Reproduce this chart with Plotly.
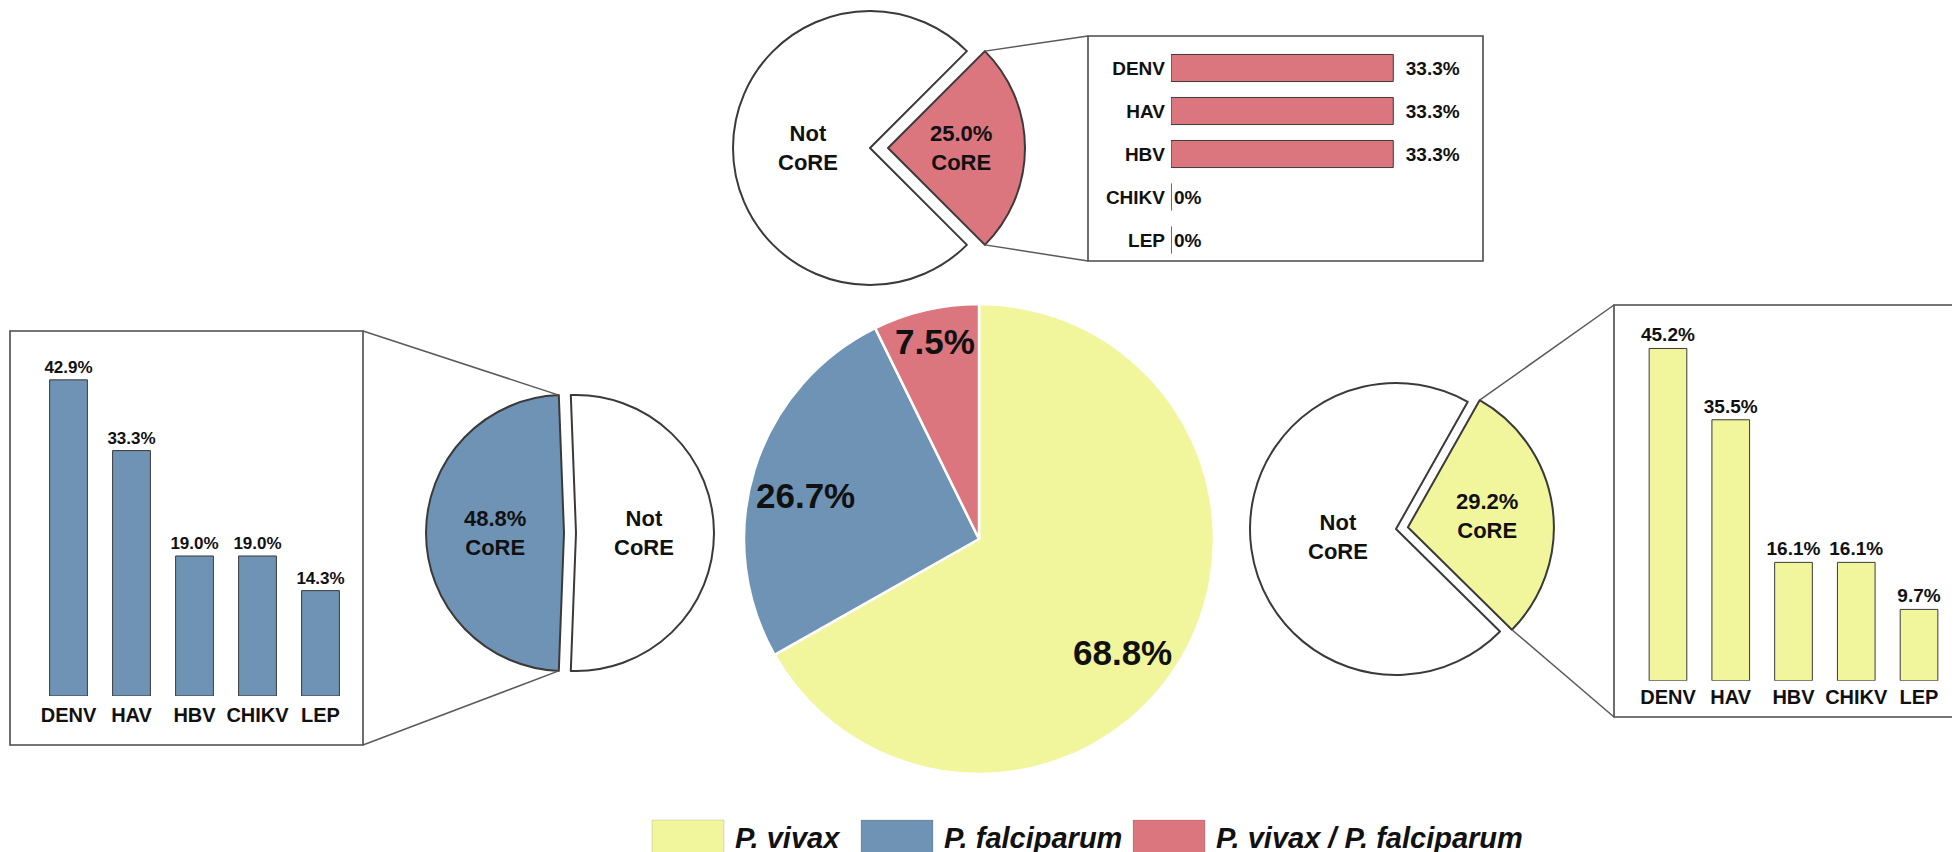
import math
import plotly.graph_objects as go

W, H = 1960, 852

# ---------------- data ----------------
species = ["P. vivax", "P. falciparum", "P. vivax / P. falciparum"]
species_share = [68.8, 26.7, 7.5]
species_colors = ["#F1F69D", "#6E93B5", "#DB757E"]

core_labels = ["CoRE", "Not CoRE"]
vivax_core = [29.2, 70.8]
falciparum_core = [48.8, 51.2]
mixed_core = [25.0, 75.0]

pathogens = ["DENV", "HAV", "HBV", "CHIKV", "LEP"]
vivax_pathogens = [45.2, 35.5, 16.1, 16.1, 9.7]
falciparum_pathogens = [42.9, 33.3, 19.0, 19.0, 14.3]
mixed_pathogens = [33.3, 33.3, 33.3, 0.0, 0.0]

# ---------------- style ----------------
FONT = "Liberation Sans, Arial, sans-serif"
TXT = "#111111"
EDGE = "#3a3a3a"
CLEAR = "rgba(0,0,0,0)"
# label placement inside the central pie (radius fraction, angular nudge in degrees)
CENTER_LABEL_R = [0.78, 0.76, 0.86]
CENTER_LABEL_NUDGE = [8, -3, 0.5]


def fx(x):
    return x / W


def fy(y):
    return 1 - y / H


def dom(cx, cy, r):
    return dict(x=[fx(cx - r), fx(cx + r)], y=[fy(cy + r), fy(cy - r)])


def polar(cx, cy, r, deg):
    a = math.radians(deg)
    return cx + r * math.sin(a), cy - r * math.cos(a)


def pct(v):
    return "0%" if v == 0 else f"{v:.1f}%"


def label(x, y, text, size, **kw):
    d = dict(x=fx(x), y=fy(y), xref="paper", yref="paper", text=text, showarrow=False,
             xanchor="center", yanchor="middle",
             font=dict(family=FONT, size=size, color=TXT, weight="bold"))
    d.update(kw)
    return d


fig = go.Figure()
annotations = []
shapes = []

# ---------------- central pie ----------------
CX, CY, CR = 971, 531, 235
fig.add_trace(go.Pie(
    labels=species, values=species_share, sort=False, direction="clockwise",
    rotation=0, domain=dom(CX, CY, CR), textinfo="none", showlegend=False,
    marker=dict(colors=species_colors, line=dict(color="white", width=2.5)),
))
tot = sum(species_share)
start = 0.0
for v, rk, nudge in zip(species_share, CENTER_LABEL_R, CENTER_LABEL_NUDGE):
    span = 360 * v / tot
    lx, ly = polar(CX, CY, rk * CR, start + span / 2 + nudge)
    annotations.append(label(lx, ly, pct(v), 35))
    start += span


# ---------------- split (exploded) pies ----------------
def split_pie(values, color, cx, cy, r, center_deg, pull_px, core_k, not_k):
    total = sum(values)
    span = 360 * values[0] / total
    rot = center_deg - span / 2
    tx, ty = polar(cx, cy, pull_px, center_deg)
    fig.add_trace(go.Pie(
        labels=core_labels, values=values, sort=False, direction="clockwise", rotation=rot,
        domain=dom(cx, cy, r), textinfo="none", showlegend=False,
        marker=dict(colors=[CLEAR, "white"], line=dict(color=[CLEAR, EDGE], width=[0, 2])),
    ))
    fig.add_trace(go.Pie(
        labels=core_labels, values=values, sort=False, direction="clockwise", rotation=rot,
        domain=dom(tx, ty, r), textinfo="none", showlegend=False,
        marker=dict(colors=[color, CLEAR], line=dict(color=[EDGE, CLEAR], width=[2, 0])),
    ))
    lx, ly = polar(tx, ty, core_k * r, center_deg)
    annotations.append(label(lx, ly, f"{values[0]:.1f}%<br>CoRE", 22))
    nx, ny = polar(cx, cy, not_k * r, center_deg + 180)
    annotations.append(label(nx, ny, "Not<br>CoRE", 22))
    c1 = polar(tx, ty, r, rot)
    c2 = polar(tx, ty, r, rot + span)
    return c1, c2


top_c1, top_c2 = split_pie(mixed_core, species_colors[2], 862, 140, 137, 90, 18, 0.53, 0.45)
left_c1, left_c2 = split_pie(falciparum_core, species_colors[1], 568, 525, 138, 270, 12, 0.5, 0.49)
right_c1, right_c2 = split_pie(vivax_core, species_colors[0], 1388, 521, 146, 82, 12, 0.55, 0.4)

# ---------------- boxes and connectors ----------------
BOX = "#4a4a4a"
LINE = "#5a5a5a"
boxes = [(2, 323, 355, 737), (1080, 28, 1475, 253), (1606, 297, 1955, 709)]
for x0, y0, x1, y1 in boxes:
    shapes.append(dict(type="rect", xref="paper", yref="paper", x0=fx(x0), x1=fx(x1), y0=fy(y1), y1=fy(y0),
                       line=dict(color=BOX, width=1.6), fillcolor=CLEAR, layer="below"))

connectors = [
    (top_c1, (1080, 28)), (top_c2, (1080, 253)),
    (left_c2, (355, 323)), (left_c1, (355, 737)),
    (right_c1, (1606, 297)), (right_c2, (1606, 709)),
]
for (ax, ay), (bx, by) in connectors:
    shapes.append(dict(type="line", xref="paper", yref="paper", x0=fx(ax), y0=fy(ay), x1=fx(bx), y1=fy(by),
                       line=dict(color=LINE, width=1.5)))


# ---------------- bar panels ----------------
def bar_kwargs(size, width):
    return dict(textposition="outside", cliponaxis=False, constraintext="none", showlegend=False,
                width=width, marker_line_color=EDGE, marker_line_width=1,
                textfont=dict(family=FONT, size=size, color=TXT, weight="bold"))


fig.add_trace(go.Bar(x=pathogens, y=falciparum_pathogens, text=[pct(v) for v in falciparum_pathogens],
                     marker_color=species_colors[1], xaxis="x", yaxis="y", **bar_kwargs(17, 0.6)))
fig.add_trace(go.Bar(x=pathogens, y=vivax_pathogens, text=[pct(v) for v in vivax_pathogens],
                     marker_color=species_colors[0], xaxis="x2", yaxis="y2", **bar_kwargs(19, 0.6)))
fig.add_trace(go.Bar(x=mixed_pathogens, y=pathogens, orientation="h",
                     text=[pct(v) if v == 0 else "\u2002" + pct(v) for v in mixed_pathogens],
                     marker_color=species_colors[2], xaxis="x3", yaxis="y3", **bar_kwargs(19, 0.63)))

tick_font = dict(family=FONT, size=20, color=TXT, weight="bold")
cat_axis = dict(showgrid=False, zeroline=False, showline=False, ticks="", tickfont=tick_font,
                fixedrange=True, categoryorder="array", categoryarray=pathogens)
val_axis = dict(visible=False, showgrid=False, zeroline=False, fixedrange=True)

# ---------------- legend (keys + labels) ----------------
legend_x = [644, 853, 1125]
for name, col, lx in zip(species, species_colors, legend_x):
    shapes.append(dict(type="rect", xref="paper", yref="paper", x0=fx(lx), x1=fx(lx + 72),
                       y0=fy(852), y1=fy(812), fillcolor=col, line=dict(color="rgba(0,0,0,0.12)", width=1)))
    annotations.append(label(lx + 81, 830, f"<i>{name}</i>", 29, xanchor="left"))

fig.update_layout(
    width=W, height=H, margin=dict(l=0, r=0, t=0, b=0),
    paper_bgcolor="white", plot_bgcolor="white",
    xaxis=dict(domain=[fx(29), fx(344)], anchor="y", ticklabelstandoff=5, **cat_axis),
    yaxis=dict(domain=[fy(688), fy(319.5)], anchor="x", range=[0, 50], **val_axis),
    xaxis2=dict(domain=[fx(1628.6), fx(1942.4)], anchor="y2", ticklabelstandoff=2, **cat_axis),
    yaxis2=dict(domain=[fy(672.7), fy(305.2)], anchor="x2", range=[0, 50], **val_axis),
    xaxis3=dict(domain=[fx(1163), fx(1430)], anchor="y3", range=[0, 40], **val_axis),
    yaxis3=dict(domain=[fy(253.5), fy(38.5)], anchor="x3", autorange="reversed", ticklabelstandoff=5,
                tickfont=dict(family=FONT, size=19, color=TXT, weight="bold"),
                showgrid=False, zeroline=False, showline=False, ticks="", fixedrange=True,
                categoryorder="array", categoryarray=pathogens),
    annotations=annotations, shapes=shapes,
)

fig.write_html("out.html")
